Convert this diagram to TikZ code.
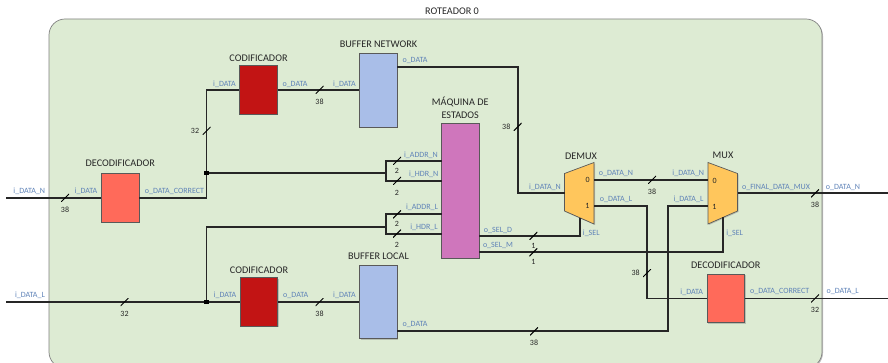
\documentclass[tikz,border=0pt]{standalone}
\usepackage{fontspec}
\setmainfont{Carlito}
\usepackage{xcolor}
\usetikzlibrary{calc}
\usetikzlibrary{positioning}
\usetikzlibrary{shadows}
\definecolor{panelgreen}{HTML}{DDEBD3}
\definecolor{codred}{HTML}{C21414}
\definecolor{decred}{HTML}{FF6A5A}
\definecolor{bufblue}{HTML}{A9BEE8}
\definecolor{fsmpink}{HTML}{CF76BC}
\definecolor{muxorange}{HTML}{FFC65C}
\definecolor{siglabel}{HTML}{5F83B8}

\begin{document}
\begin{tikzpicture}[x=1pt, y=-1pt, line join=miter, node distance=4pt]
    \tikzstyle{panel}=[draw=black!50,fill=panelgreen,rounded corners=16pt,minimum width=773pt,minimum height=349pt,inner sep=0pt,line width=0.7pt,drop shadow={shadow xshift=1pt,shadow yshift=-1pt,opacity=0.5}]
    \tikzstyle{block}=[draw=black!65,rectangle,minimum width=37.5pt,inner sep=0pt,line width=0.7pt,drop shadow={shadow xshift=1pt,shadow yshift=-1pt,opacity=0.4}]
    \tikzstyle{wire}=[draw=black!85,line width=1.9pt]
    \tikzstyle{junct}=[rectangle,fill=black,minimum size=4.5pt,inner sep=0pt]
    \tikzstyle{ttl}=[inner sep=0pt,font=\fontsize{10.2}{12.5}\selectfont,text=black!85,align=center]
    \tikzstyle{sig}=[inner sep=0pt,font=\fontsize{8}{10}\selectfont,text=siglabel]
    \tikzstyle{num}=[inner sep=0pt,font=\fontsize{8}{9}\selectfont,text=black!85]
    \tikzstyle{busmark}=[minimum size=8pt,inner sep=0pt,path picture={\draw[line width=1pt] (path picture bounding box.south west) -- (path picture bounding box.north east);}]
    \tikzstyle{muxshape}=[draw=black!65,fill=muxorange,line width=0.7pt,drop shadow={shadow xshift=1pt,shadow yshift=-1pt,opacity=0.4}]

    \useasboundingbox (0,0) rectangle (888,363);

    \node[ttl] (title) at (452,11) {ROTEADOR 0};
    \node[panel] (router) at (435.5,193.5) {};

    % blocks
    \node[block, fill=decred, minimum height=48.5pt] (decN) at (120.25,198) {};
    \node[block, fill=codred, minimum height=48.5pt] (codN) at (258.5,90) {};
    \node[block, fill=bufblue, minimum height=73.5pt] (bufN) at (378.5,90.25) {};
    \node[block, fill=fsmpink, minimum height=135pt] (fsm) at (460.25,190.5) {};
    \node[block, fill=codred, minimum height=48.5pt] (codL) at (259,302) {};
    \node[block, fill=bufblue, minimum height=73.5pt] (bufL) at (378.5,302) {};
    \node[block, fill=decred, minimum height=48.5pt] (decL) at (725.75,298.5) {};

    % mux bodies
    \coordinate (demuxTR) at (594,162.5);
    \coordinate (demuxBR) at (594,224);
    \coordinate (muxTL) at (708,162.5);
    \coordinate (muxBL) at (708,224);
    \draw[muxshape] (564.5,173.5) -- (demuxTR) -- (demuxBR) -- (564.5,211) -- cycle;
    \draw[muxshape] (muxTL) -- (737.5,173.5) -- (737.5,211) -- (muxBL) -- cycle;

    \node[ttl, above=4pt of codN] (codNt) {CODIFICADOR};
    \node[ttl, above=5.5pt of bufN] (bufNt) {BUFFER NETWORK};
    \node[ttl, above=4pt of fsm] (fsmt) {MÁQUINA DE\\ESTADOS};
    \node[ttl, above=6.5pt of decN] (decNt) {DECODIFICADOR};
    \node[ttl, above=4pt of codL] (codLt) {CODIFICADOR};
    \node[ttl, above=5pt of bufL] (bufLt) {BUFFER LOCAL};
    \node[ttl, above=5pt of decL] (decLt) {DECODIFICADOR};
    \node[ttl] (demuxt) at (581,156) {DEMUX};
    \node[ttl] (muxt) at (723,155.5) {MUX};

    \node[num] (dm0) at (587.7,180) {0};
    \node[num] (dm1) at (587.3,206) {1};
    \node[num] (mx0) at (714.7,180.5) {0};
    \node[num] (mx1) at (714.5,206.5) {1};

    % ports and free ends
    \coordinate (inN) at (6,198);
    \coordinate (inL) at (6,302);
    \coordinate (outN) at (888,193.3);
    \coordinate (outL) at (888,298.5);
    \coordinate (bufNo) at (397.25,67);
    \coordinate (bufLo) at (397.25,331.3);
    \coordinate (brkN) at (386,173);
    \coordinate (brkL) at (386,226.7);
    \coordinate (fsmAN) at (441.5,161);
    \coordinate (fsmHN) at (441.5,180.7);
    \coordinate (fsmAL) at (441.5,214.3);
    \coordinate (fsmHL) at (441.5,233.7);
    \coordinate (fsmSD) at (479,236);
    \coordinate (fsmSM) at (479,252.3);
    \coordinate (demuxI) at (564.5,193.3);
    \coordinate (demuxO0) at (594,180);
    \coordinate (demuxO1) at (594,206.3);
    \coordinate (demuxS) at (580,217.8);
    \coordinate (muxI0) at (708,180);
    \coordinate (muxI1) at (708,206.3);
    \coordinate (muxO) at (737.5,193.3);
    \coordinate (muxS) at (722.7,217.5);

    \node[junct] (jN) at (206.5,173) {};
    \node[junct] (jL) at (206.5,302) {};

    % wires
    \draw[wire] (inN) -- (decN.west);
    \draw[wire] (decN.east) -| (jN) |- (codN.west);
    \draw[wire] (jN) -- (brkN);
    \draw[wire] (fsmAN) -| (brkN) |- (fsmHN);
    \draw[wire] (inL) -- (jL) -- (codL.west);
    \draw[wire] (jL) |- (brkL);
    \draw[wire] (fsmAL) -| (brkL) |- (fsmHL);
    \draw[wire] (codN.east) -- (codN.east -| bufN.west);
    \draw[wire] (codL.east) -- (bufL.west);
    \draw[wire] (bufNo) -| (517.7,150) |- (demuxI);
    \draw[wire] (demuxO0) -- (muxI0);
    \draw[wire] (demuxO1) -| (647,250) |- (decL.west);
    \draw[wire] (bufLo) -| (668,250) |- (muxI1);
    \draw[wire] (muxO) -- (outN);
    \draw[wire] (decL.east) -- (outL);
    \draw[wire] (fsmSD) -| (demuxS);
    \draw[wire] (fsmSM) -| (muxS);

    % bus width marks
    \node[busmark] (b1) at (65,198) {};
    \node[num, below=4.5pt of b1] {38};
    \node[busmark] (b2) at (206.5,131) {};
    \node[num, left=3pt of b2] {32};
    \node[busmark] (b3) at (319.5,90) {};
    \node[num, below=4.5pt of b3] {38};
    \node[busmark] (b4) at (397,161) {};
    \node[num, below=2.5pt of b4] {2};
    \node[busmark] (b5) at (397,181) {};
    \node[num, below=4.5pt of b5] {2};
    \node[busmark] (b6) at (397,214.3) {};
    \node[num, below=2.5pt of b6] {2};
    \node[busmark] (b7) at (397,233.7) {};
    \node[num, below=4.5pt of b7] {2};
    \node[busmark] (b8) at (517.7,127) {};
    \node[num, left=3pt of b8] {38};
    \node[busmark] (b9) at (652,180) {};
    \node[num, below=4.5pt of b9] {38};
    \node[busmark] (b10) at (533.3,236) {};
    \node[num, below=2.5pt of b10] {1};
    \node[busmark] (b11) at (533.3,252.3) {};
    \node[num, below=2.5pt of b11] {1};
    \node[busmark] (b12) at (647,273) {};
    \node[num, left=3pt of b12] {38};
    \node[busmark] (b13) at (534,331.3) {};
    \node[num, below=4.5pt of b13] {38};
    \node[busmark] (b14) at (815,193.3) {};
    \node[num, below=4.5pt of b14] {38};
    \node[busmark] (b15) at (815,298.5) {};
    \node[num, below=4.5pt of b15] {32};
    \node[busmark] (b16) at (319.5,302) {};
    \node[num, below=4.5pt of b16] {38};
    \node[busmark] (b17) at (124.5,302) {};
    \node[num, below=4.5pt of b17] {32};

    % signal names
    \node[sig] (s1) at (29.3,191.5) {i\_DATA\_N};
    \node[sig] (s2) at (86,191) {i\_DATA};
    \node[sig] (s3) at (174.5,191) {o\_DATA\_CORRECT};
    \node[sig] (s4) at (224.5,84) {i\_DATA};
    \node[sig] (s5) at (295,84) {o\_DATA};
    \node[sig] (s6) at (344.5,84) {i\_DATA};
    \node[sig] (s7) at (415,60.5) {o\_DATA};
    \node[sig] (s8) at (421,155) {i\_ADDR\_N};
    \node[sig] (s9) at (423.7,174.5) {i\_HDR\_N};
    \node[sig] (s10) at (422,207.5) {i\_ADDR\_L};
    \node[sig] (s11) at (424,227.5) {i\_HDR\_L};
    \node[sig] (s12) at (498,230) {o\_SEL\_D};
    \node[sig] (s13) at (498,245.5) {o\_SEL\_M};
    \node[sig] (s14) at (545,187) {i\_DATA\_N};
    \node[sig] (s15) at (616,173.5) {o\_DATA\_N};
    \node[sig] (s16) at (688.3,173.5) {i\_DATA\_N};
    \node[sig] (s17) at (616,199.5) {o\_DATA\_L};
    \node[sig] (s18) at (688.5,199.5) {i\_DATA\_L};
    \node[sig] (s19) at (591.3,233) {i\_SEL};
    \node[sig] (s20) at (734.7,233) {i\_SEL};
    \node[sig] (s21) at (776,187) {o\_FINAL\_DATA\_MUX};
    \node[sig] (s22) at (843,187) {o\_DATA\_N};
    \node[sig] (s23) at (30,295.7) {i\_DATA\_L};
    \node[sig] (s24) at (225,295.7) {i\_DATA};
    \node[sig] (s25) at (295.7,295.7) {o\_DATA};
    \node[sig] (s26) at (344.5,295.7) {i\_DATA};
    \node[sig] (s27) at (415,324.5) {o\_DATA};
    \node[sig] (s28) at (691.7,292) {i\_DATA};
    \node[sig] (s29) at (779.7,291.5) {o\_DATA\_CORRECT};
    \node[sig] (s30) at (842.7,291.5) {o\_DATA\_L};
\end{tikzpicture}
\end{document}
